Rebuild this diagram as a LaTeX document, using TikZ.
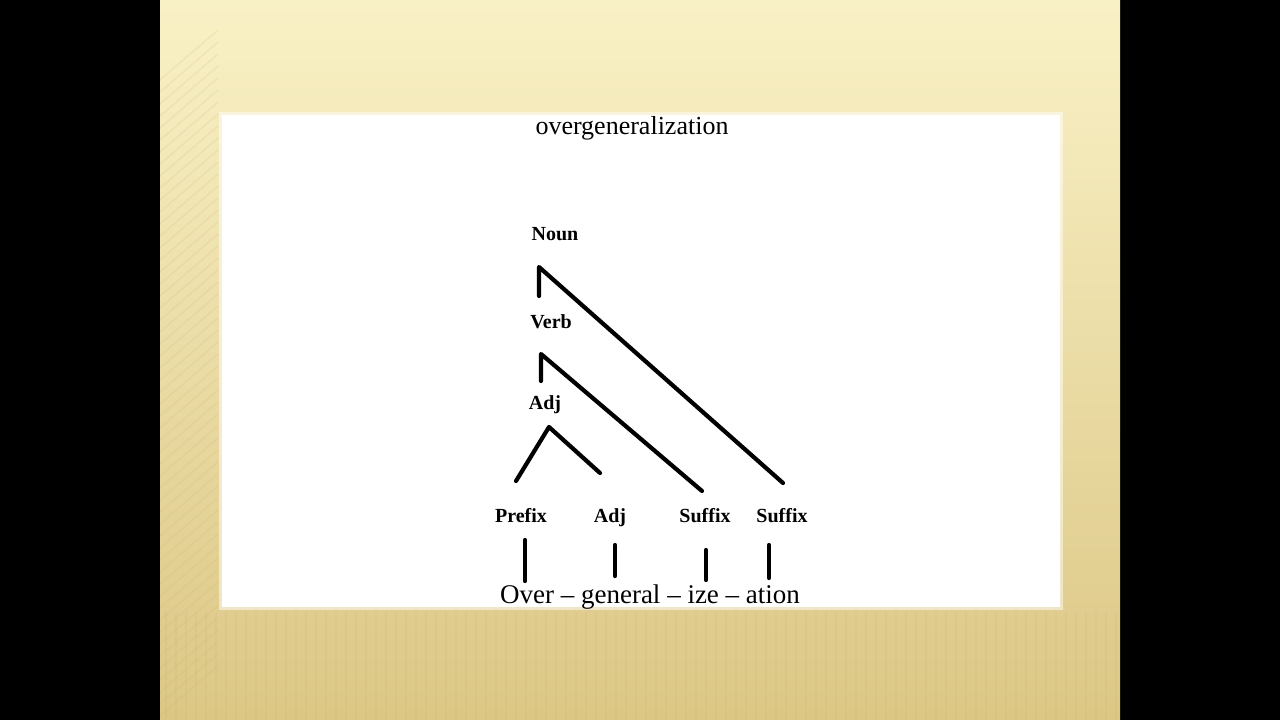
\documentclass[tikz,border=0pt]{standalone}
\usepackage{fontspec}
\setmainfont{Liberation Serif}
\definecolor{slidetop}{HTML}{F9F1C6}
\definecolor{slidemid}{HTML}{EEE0A8}
\definecolor{slidebot}{HTML}{DCC785}
\definecolor{stripe}{HTML}{C9B16A}
\begin{document}
\begin{tikzpicture}[x=1pt, y=-1pt,
  lbl/.style={font=\fontsize{20}{24}\selectfont\bfseries, inner sep=0pt, anchor=base},
  branch/.style={line width=4.2pt, line cap=round, line join=round},
  stripes/.style={draw=stripe, line width=1.5pt, opacity=0.15}]
\useasboundingbox (0,0) rectangle (1280,720);

% slide background
\fill[black] (0,0) rectangle (1280,720);
\shade[top color=slidetop, middle color=slidemid, bottom color=slidebot] (160,0) rectangle (1120,720);
\foreach \x in {166,176,...,1116}
  \draw[stripes] (\x,612) -- (\x,720);
\foreach \y in {50,62,...,690}
  \draw[stripes] (160,\y+30) -- (218,\y-20);
\fill[white, opacity=0.5] (219,112) rectangle (1063,610);
\fill[white] (222,115) rectangle (1060,607);

% labels
\node[font=\fontsize{26}{30}\selectfont, inner sep=0pt, anchor=base] (title) at (632,134) {overgeneralization};
\node[lbl] (noun) at (555,240) {Noun};
\node[lbl] (verb) at (551,328) {Verb};
\node[lbl] (adj) at (545,409) {Adj};
\node[lbl] (prefix) at (521,522) {Prefix};
\node[lbl] (adjb) at (610,522) {Adj};
\node[lbl] (sufa) at (705,522) {Suffix};
\node[lbl] (sufb) at (782,522) {Suffix};
\node[font=\fontsize{27}{32}\selectfont, inner sep=0pt, anchor=base] (word) at (650,603) {Over – general – ize – ation};

% branch points
\coordinate (nounbot) at (539,296);
\coordinate (nountop) at (539,267);
\coordinate (nounend) at (783,483);
\coordinate (verbbot) at (541,381);
\coordinate (verbtop) at (541,354);
\coordinate (verbend) at (702,491);
\coordinate (adjl) at (516,481);
\coordinate (adjtop) at (549,427);
\coordinate (adjr) at (600,473);

\coordinate (pretop) at (525,540);
\coordinate (prebot) at (525,581);
\coordinate (adjbtop) at (615,545);
\coordinate (adjbbot) at (615,576);
\coordinate (sufatop) at (706,550);
\coordinate (sufabot) at (706,580);
\coordinate (sufbtop) at (769,545);
\coordinate (sufbbot) at (769,578);

\draw[branch] (nounbot) -- (nountop) -- (nounend);
\draw[branch] (verbbot) -- (verbtop) -- (verbend);
\draw[branch] (adjl) -- (adjtop) -- (adjr);

\draw[branch] (pretop) -- (prebot);
\draw[branch] (adjbtop) -- (adjbbot);
\draw[branch] (sufatop) -- (sufabot);
\draw[branch] (sufbtop) -- (sufbbot);
\end{tikzpicture}
\end{document}
